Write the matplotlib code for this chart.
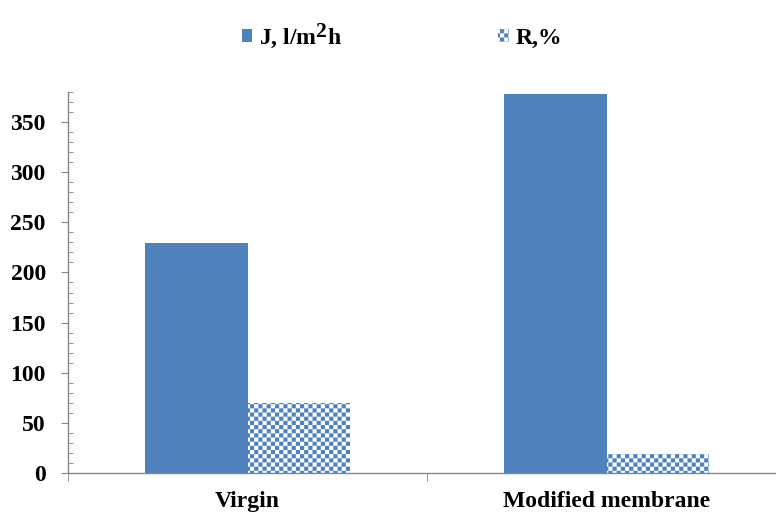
import numpy as np
import matplotlib
matplotlib.use("Agg")
import matplotlib.pyplot as plt
import matplotlib.hatch as mhatch
import matplotlib._mathtext as mmt
from matplotlib.path import Path
from matplotlib.ticker import MultipleLocator, FixedLocator

categories = ["Virgin", "Modified membrane"]
flux_J = [229, 378]
rejection_R = [70, 19]
y_ticks = [0, 50, 100, 150, 200, 250, 300, 350]


class Checker(mhatch.HatchPatternBase):
    def __init__(self, hatch, density):
        k = hatch.count('c')
        self.n = k * density
        if self.n % 2:
            self.n += 1
        self.num_vertices = (self.n * self.n // 2) * 5 if k else 0

    def set_vertices_and_codes(self, vertices, codes):
        n = self.n
        s = 1.0 / n
        idx = 0
        for i in range(n):
            for j in range(n):
                if (i + j) % 2 == 0:
                    x0, y0 = j * s, i * s
                    vertices[idx:idx + 5] = [[x0, y0], [x0 + s, y0], [x0 + s, y0 + s],
                                             [x0, y0 + s], [x0, y0]]
                    codes[idx:idx + 5] = [Path.MOVETO, Path.LINETO, Path.LINETO,
                                          Path.LINETO, Path.CLOSEPOLY]
                    idx += 5


mhatch._hatch_types.append(Checker)
mmt.SHRINK_FACTOR = 0.92

plt.rcParams['font.family'] = ['Liberation Serif', 'DejaVu Serif']
plt.rcParams['font.weight'] = 'bold'
plt.rcParams['mathtext.fontset'] = 'custom'
plt.rcParams['mathtext.rm'] = 'Liberation Serif:bold'
plt.rcParams['mathtext.bf'] = 'Liberation Serif:bold'
plt.rcParams['mathtext.it'] = 'Liberation Serif:bold'
plt.rcParams['hatch.linewidth'] = 0.0

blue = '#4F81BD'
gray = '#868686'

fig = plt.figure(figsize=(7.76, 5.13), dpi=100)
ax = fig.add_axes([68 / 776, 40 / 513, 718 / 776, 0.7427])

x = np.arange(len(categories))
w = 0.285
b1 = ax.bar(x - w / 2, flux_J, width=w, color=blue, edgecolor=blue, linewidth=0,
            label=r'J, l/m$^{2}$h')
b2 = ax.bar(x + w / 2, rejection_R, width=w, facecolor='white', edgecolor=blue,
            linewidth=0, hatch='cccc', label='R,%')

ax.set_xlim(-0.5, 1.5)
ax.set_ylim(0, 380)
ax.set_yticks(y_ticks)
ax.yaxis.set_minor_locator(MultipleLocator(10))
ax.set_xticks(x)
ax.set_xticklabels(categories)
ax.xaxis.set_minor_locator(FixedLocator([-0.5, 0.5, 1.5]))

for s in ['top', 'right']:
    ax.spines[s].set_visible(False)
for s in ['left', 'bottom']:
    ax.spines[s].set_color(gray)
    ax.spines[s].set_linewidth(1.0)

ax.tick_params(axis='y', which='major', direction='out', length=5, color=gray,
               labelsize=17, pad=11)
ax.tick_params(axis='y', which='minor', direction='in', length=3.5, color=gray)
ax.tick_params(axis='x', which='major', length=0, labelsize=17, pad=13)
ax.tick_params(axis='x', which='minor', direction='out', length=6, color=gray)

leg = fig.legend(handles=[b1, b2], loc='center', bbox_to_anchor=(0.518, 0.93), ncol=2,
                 frameon=False, fontsize=17, handlelength=0.45, handleheight=0.45,
                 handletextpad=0.3, columnspacing=6.6)

fig.savefig('out.png', dpi=100)
